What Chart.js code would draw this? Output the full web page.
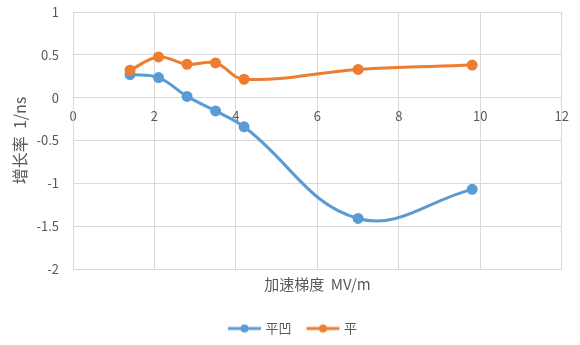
<!DOCTYPE html>
<html>
<head>
<meta charset="utf-8">
<script src="https://cdn.jsdelivr.net/npm/chart.js@4"></script>
<style>
  html, body { margin: 0; padding: 0; background: #fff; }
  #wrap { width: 580px; height: 345px; }
</style>
</head>
<body>
<div id="wrap"><canvas id="growthChart" width="580" height="345"></canvas></div>
<script>
// values
const gradient = [1.4, 2.1, 2.8, 3.5, 4.2, 7, 9.8];
const concave = [0.27, 0.235, 0.015, -0.155, -0.34, -1.41, -1.07];
const flat = [0.32, 0.475, 0.39, 0.405, 0.215, 0.33, 0.38];
const seriesNames = ['平凹', '平'];
const xTicks = [0, 2, 4, 6, 8, 10, 12];
const yTicks = [-2, -1.5, -1, -0.5, 0, 0.5, 1];

const blue = '#5B9BD5';
const orange = '#ED7D31';
const textGray = '#595959';
const gridGray = '#D9D9D9';
const font = '"Noto Sans CJK SC", "Noto Sans", sans-serif';

function toPoints(xs, ys) {
  return xs.map((x, i) => ({ x: x, y: ys[i] }));
}

// little line + dot sample for the legend, like the office style.
// the image is wider than the legend box so it hangs a bit to the right,
// closer to the label text
function legendMark(color) {
  const c = document.createElement('canvas');
  c.width = 44;
  c.height = 10;
  const g = c.getContext('2d');
  g.strokeStyle = color;
  g.lineWidth = 3;
  g.beginPath();
  g.moveTo(9, 5);
  g.lineTo(42, 5);
  g.stroke();
  g.fillStyle = color;
  g.beginPath();
  g.arc(25.5, 5, 4, 0, Math.PI * 2);
  g.fill();
  return c;
}
const marks = [legendMark(blue), legendMark(orange)];

const ctx = document.getElementById('growthChart').getContext('2d');
new Chart(ctx, {
  type: 'line',
  data: {
    datasets: [
      {
        label: seriesNames[0],
        data: toPoints(gradient, concave),
        borderColor: blue,
        backgroundColor: blue,
        borderWidth: 3,
        pointRadius: 4,
        pointHoverRadius: 4,
        tension: 0.4,
        order: 2,
      },
      {
        label: seriesNames[1],
        data: toPoints(gradient, flat),
        borderColor: orange,
        backgroundColor: orange,
        borderWidth: 3,
        pointRadius: 4,
        pointHoverRadius: 4,
        tension: 0.4,
        order: 1,
      },
    ],
  },
  options: {
    responsive: false,
    animation: false,
    layout: { padding: { top: 12, right: 0, left: 0, bottom: 0 } },
    plugins: {
      tooltip: { enabled: false },
      legend: {
        position: 'bottom',
        labels: {
          usePointStyle: true,
          pointStyleWidth: 36,
          color: textGray,
          font: { family: font, size: 13 },
          padding: 10,
          sort: (a, b) => a.datasetIndex - b.datasetIndex,
          generateLabels(chart) {
            const items = Chart.defaults.plugins.legend.labels.generateLabels(chart);
            items.forEach((it) => { it.pointStyle = marks[it.datasetIndex]; });
            return items;
          },
        },
      },
    },
    scales: {
      x: {
        type: 'linear',
        position: { y: 0 },
        min: 0,
        max: 12,
        afterBuildTicks(s) { s.ticks = xTicks.map((v) => ({ value: v })); },
        ticks: { color: textGray, font: { family: font, size: 13 }, padding: 11 },
        grid: { color: gridGray, drawTicks: false },
        border: { color: gridGray },
      },
      x2: {
        type: 'linear',
        position: 'bottom',
        min: 0,
        max: 12,
        ticks: { display: false },
        grid: { display: false },
        border: { display: false },
        title: {
          display: true,
          text: '加速梯度  MV/m',
          color: textGray,
          font: { family: font, size: 15 },
          padding: { top: 6, bottom: 19 },
        },
        afterFit(s) { s.height = 43; },
      },
      y: {
        type: 'linear',
        min: -2,
        max: 1,
        afterBuildTicks(s) { s.ticks = yTicks.map((v) => ({ value: v })); },
        ticks: {
          color: textGray,
          font: { family: font, size: 13 },
          padding: 3,
          callback: (v) => String(v),
        },
        // invisible tick marks push the labels away from the axis
        // without adding the tick padding on top of the plot
        grid: { color: gridGray, drawTicks: true, tickLength: 11, tickColor: 'rgba(0,0,0,0)' },
        border: { color: gridGray },
        title: {
          display: true,
          text: '增长率  1/ns',
          color: textGray,
          font: { family: font, size: 16 },
          padding: { top: 10, bottom: 0 },
        },
        afterFit(s) { s.width = 73; },
      },
      // empty right gutter so the legend stays centred on the whole canvas
      y2: {
        type: 'linear',
        position: 'right',
        min: -2,
        max: 1,
        ticks: { display: false },
        grid: { display: false },
        border: { display: false },
        afterFit(s) { s.width = 18; },
      },
    },
  },
});
</script>
</body>
</html>
